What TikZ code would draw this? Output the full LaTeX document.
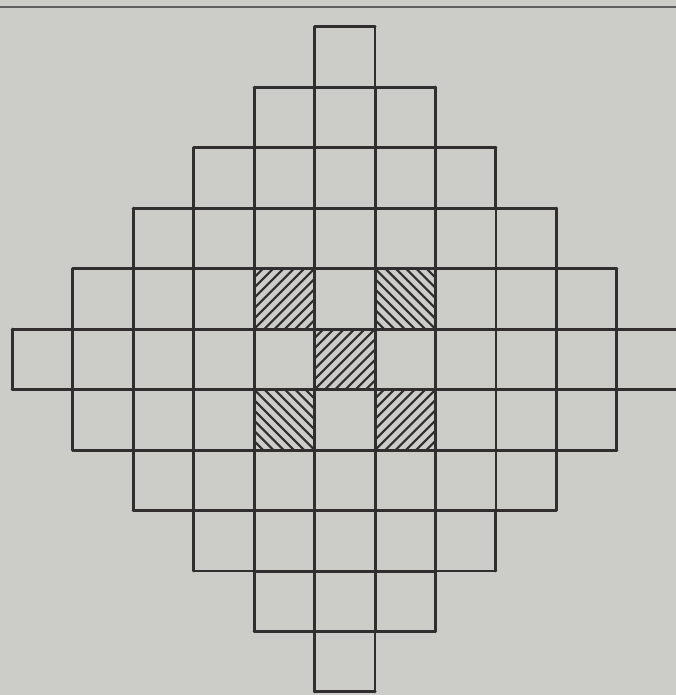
\documentclass[tikz,border=0pt]{standalone}
\usepackage{xcolor}
\usepackage{tikz}
\usetikzlibrary{calc}
\definecolor{paper}{RGB}{204,204,201}
\definecolor{ink}{RGB}{48,46,46}
\definecolor{rule}{RGB}{95,95,95}

% hatch one cell: lower-left corner (#1,#2), direction #3 = 1 (/) or -1 (\)
\newcommand{\hatchcell}[3]{%
  \begin{scope}
    \clip (#1,#2) rectangle ++(1,1);
    \foreach \d in {-1.02,-0.85,...,1.1}{
      \ifnum#3>0
        \draw[hatchline] ($(#1,#2)+(\d,0)$) -- ++(1,1);
      \else
        \draw[hatchline] ($(#1,#2)+(\d,1)$) -- ++(1,-1);
      \fi
    }
  \end{scope}}

\begin{document}
\begin{tikzpicture}[x=1cm, y=1cm,
    gridline/.style={ink, line width=1.4pt, line cap=round},
    hatchline/.style={ink, line width=1pt}]
  % paper and margins
  \fill[paper] (-0.2,-0.05) rectangle (10.975,11.44);
  \useasboundingbox (-0.2,-0.05) rectangle (10.975,11.44);
  % page edge at the top
  \draw[rule, line width=0.9pt] (-0.2,11.32) -- (10.975,11.32);
  % hatched cells round the centre
  \hatchcell{4}{6}{1}
  \hatchcell{6}{6}{-1}
  \hatchcell{5}{5}{1}
  \hatchcell{4}{4}{-1}
  \hatchcell{6}{4}{1}
  % diamond of cells, one row at a time (row 0 at the top)
  \foreach \r in {0,...,10}{
    \pgfmathtruncatemacro{\w}{min(\r,10-\r)}
    \pgfmathtruncatemacro{\lo}{5-\w}
    \pgfmathtruncatemacro{\hi}{6+\w}
    \draw[gridline, step=1] (\lo,10-\r) grid (\hi,11-\r);
  }
\end{tikzpicture}
\end{document}
